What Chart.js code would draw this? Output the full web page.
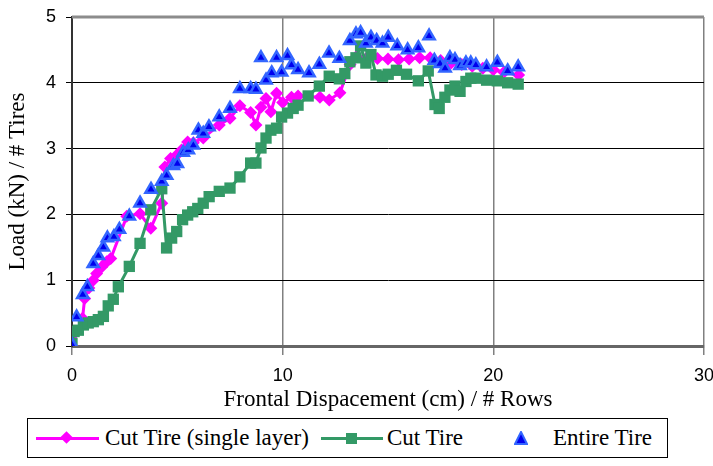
<!DOCTYPE html>
<html>
<head>
<meta charset="utf-8">
<script src="https://cdn.jsdelivr.net/npm/chart.js@4"></script>
<style>
  body {margin: 0; background: #fff; width: 713px; height: 466px; overflow: hidden;}
  #wrap {position: absolute; left: 0; top: 0; width: 713px; height: 416px;}
  #legend {position: absolute; left: 27px; top: 418px; width: 641px; height: 40px; border: 1px solid #000;
    font-family: "Liberation Serif", "Times New Roman", serif; font-size: 23px; color: #000; box-sizing: border-box;}
  .abs {position: absolute;}
  .txt {position: absolute; top: 6px; line-height: 26px; white-space: nowrap;}
</style>
</head>
<body>
<div id="wrap"><canvas id="chart" width="713" height="416"></canvas></div>
<div id="legend">
  <div class="abs" style="left:8px;top:18px;width:63px;height:3px;background:#ff00ff"></div>
  <div class="abs" style="left:34px;top:14px;width:9px;height:9px;background:#ff00ff;transform:rotate(45deg)"></div>
  <div class="txt" style="left:77px">Cut Tire (single layer)</div>
  <div class="abs" style="left:293px;top:18px;width:62px;height:3px;background:#339966"></div>
  <div class="abs" style="left:318px;top:14px;width:11px;height:11px;background:#339966"></div>
  <div class="txt" style="left:359px">Cut Tire</div>
  <svg class="abs" width="14" height="14" style="left:486px;top:12px"><polygon points="7,1 13,13 1,13" fill="#0000ee" stroke="#3366ff" stroke-width="2"/></svg>
  <div class="txt" style="left:525px">Entire Tire</div>
</div>
<script>
// Cut Tire (single layer)
const singleX = [0, 0.5, 0.6, 0.8, 1.01, 1.17, 1.41, 1.65, 1.84, 2.6, 3.23, 3.74, 4.26, 4.41, 4.68, 4.94, 5.2, 5.49, 5.76, 6.23, 6.99, 7.5, 7.97, 8.48, 8.73, 8.97, 9.21, 9.44, 9.71, 10.0, 10.42, 10.73, 11.77, 12.21, 12.72, 13.2, 13.5, 14.0, 14.5, 15.0, 15.5, 16.0, 16.5, 17.0, 17.5, 18.0, 18.5, 19.0, 19.5, 20.0, 20.5, 21.2]
const singleY = [0, 0.42, 0.72, 0.88, 1.0, 1.10, 1.20, 1.28, 1.33, 1.97, 2.01, 1.79, 2.17, 2.72, 2.85, 2.89, 2.98, 3.10, 3.09, 3.16, 3.36, 3.46, 3.65, 3.55, 3.36, 3.63, 3.76, 3.56, 3.84, 3.70, 3.78, 3.80, 3.78, 3.74, 3.85, 4.28, 4.40, 4.38, 4.37, 4.36, 4.35, 4.36, 4.38, 4.38, 4.34, 4.30, 4.28, 4.25, 4.22, 4.20, 4.16, 4.12]

// Cut Tire
const cutX = [0, 0.1, 0.3, 0.54, 0.77, 1.01, 1.25, 1.49, 1.72, 1.96, 2.2, 2.72, 3.23, 3.74, 4.26, 4.49, 4.73, 4.97, 5.25, 5.49, 5.73, 5.97, 6.23, 6.51, 6.99, 7.5, 7.97, 8.48, 8.73, 8.97, 9.21, 9.44, 9.71, 9.95, 10.23, 10.5, 10.73, 11.21, 11.74, 12.21, 12.69, 12.95, 13.19, 13.48, 13.7, 13.95, 14.19, 14.43, 14.74, 15.01, 15.4, 15.88, 16.44, 16.91, 17.23, 17.43, 17.7, 17.94, 18.18, 18.42, 18.7, 18.93, 19.17, 19.68, 20.19, 20.68, 21.18]
const cutY = [0.04, 0.22, 0.24, 0.32, 0.35, 0.37, 0.40, 0.45, 0.61, 0.71, 0.90, 1.21, 1.56, 2.07, 2.39, 1.49, 1.64, 1.74, 1.92, 1.99, 2.04, 2.09, 2.17, 2.27, 2.35, 2.40, 2.57, 2.78, 2.78, 3.01, 3.16, 3.28, 3.31, 3.48, 3.54, 3.61, 3.66, 3.80, 3.95, 4.10, 4.06, 4.14, 4.32, 4.38, 4.56, 4.30, 4.43, 4.12, 4.10, 4.13, 4.19, 4.13, 4.03, 4.18, 3.67, 3.61, 3.78, 3.89, 3.95, 3.87, 4.02, 4.07, 4.07, 4.04, 4.03, 4.00, 3.98]

// Entire Tire
const entireX = [0, 0.22, 0.51, 0.73, 1.01, 1.25, 1.49, 1.68, 1.99, 2.25, 2.72, 3.23, 3.75, 4.26, 4.49, 4.81, 5.0, 5.28, 5.52, 5.76, 6.0, 6.23, 6.5, 6.99, 7.5, 7.97, 8.48, 8.73, 8.97, 9.21, 9.48, 9.71, 9.95, 10.23, 10.42, 10.73, 11.25, 11.74, 12.2, 12.69, 13.19, 13.48, 13.7, 13.95, 14.19, 14.46, 14.74, 15.01, 15.44, 15.93, 16.44, 16.95, 17.2, 17.47, 17.71, 17.94, 18.18, 18.42, 18.7, 18.93, 19.17, 19.68, 20.19, 20.68, 21.18]
const entireY = [0.02, 0.44, 0.78, 0.90, 1.25, 1.37, 1.50, 1.64, 1.66, 1.77, 1.97, 2.17, 2.38, 2.50, 2.59, 2.74, 2.77, 2.94, 2.98, 3.05, 3.28, 3.23, 3.33, 3.48, 3.61, 3.91, 3.91, 3.90, 4.38, 4.04, 4.15, 4.38, 4.16, 4.41, 4.27, 4.20, 4.15, 4.28, 4.45, 4.37, 4.64, 4.74, 4.76, 4.60, 4.69, 4.64, 4.60, 4.69, 4.56, 4.50, 4.53, 4.71, 4.34, 4.29, 4.22, 4.38, 4.35, 4.26, 4.30, 4.30, 4.27, 4.24, 4.31, 4.18, 4.24]

const xTicks = [0, 10, 20, 30]
const yTicks = [0, 1, 2, 3, 4, 5]

const toPoints = (xs, ys) => xs.map((x, i) => ({x, y: ys[i]}))

const sans = '"Liberation Sans", Arial, sans-serif'
const serif = '"Liberation Serif", "Times New Roman", serif'

const frame = {
  id: 'frame',
  afterDatasetsDraw(chart) {
    const {ctx, chartArea: a} = chart
    ctx.save()
    ctx.strokeStyle = '#8c8c8c'
    ctx.lineWidth = 3
    ctx.beginPath()
    ctx.moveTo(a.left, a.top)
    ctx.lineTo(a.right, a.top)
    ctx.stroke()
    ctx.restore()
  }
}

new Chart(document.getElementById('chart').getContext('2d'), {
  type: 'scatter',
  data: {
    datasets: [{
      label: 'Entire Tire',
      data: toPoints(entireX, entireY),
      showLine: false,
      pointStyle: 'triangle',
      pointRadius: 6.5,
      backgroundColor: '#0000ee',
      borderColor: '#3366ff',
      pointBorderWidth: 2.5
    }, {
      label: 'Cut Tire',
      data: toPoints(cutX, cutY),
      showLine: true,
      borderColor: '#339966',
      backgroundColor: '#339966',
      borderWidth: 3,
      pointStyle: 'rect',
      pointRadius: 8,
      pointBorderWidth: 0
    }, {
      label: 'Cut Tire (single layer)',
      data: toPoints(singleX, singleY),
      showLine: true,
      borderColor: '#ff00ff',
      backgroundColor: '#ff00ff',
      borderWidth: 3,
      pointStyle: 'rectRot',
      pointRadius: 6.5,
      pointBorderWidth: 0
    }]
  },
  options: {
    responsive: false,
    animation: false,
    layout: {autoPadding: false, padding: {top: 17, right: 9, left: 0, bottom: 2}},
    plugins: {legend: {display: false}, tooltip: {enabled: false}},
    scales: {
      x: {
        type: 'linear', min: 0, max: 30,
        afterBuildTicks: s => { s.ticks = xTicks.map(v => ({value: v})) },
        afterFit: s => { s.height = 68; s.paddingLeft = 0; s.paddingRight = 0 },
        grid: {color: '#808080', lineWidth: 1.5, tickLength: 9, drawOnChartArea: true},
        border: {color: '#666', width: 3},
        ticks: {color: '#000', font: {family: sans, size: 18}, padding: 10, maxRotation: 0},
        title: {display: true, text: 'Frontal Dispacement (cm) / # Rows', color: '#000',
          font: {family: serif, size: 23}, padding: {top: 0, bottom: 0}}
      },
      y: {
        type: 'linear', min: 0, max: 5,
        afterBuildTicks: s => { s.ticks = yTicks.map(v => ({value: v})) },
        afterFit: s => { s.width = 72; s.paddingTop = 0; s.paddingBottom = 0 },
        grid: {color: '#000', lineWidth: 1, tickLength: 6},
        border: {color: '#333', width: 2},
        ticks: {color: '#000', font: {family: sans, size: 18}, padding: 10},
        title: {display: true, text: 'Load (kN) / # Tires', color: '#000',
          font: {family: serif, size: 23}, padding: {top: 4, bottom: 4}}
      }
    }
  },
  plugins: [frame]
})
</script>
</body>
</html>
